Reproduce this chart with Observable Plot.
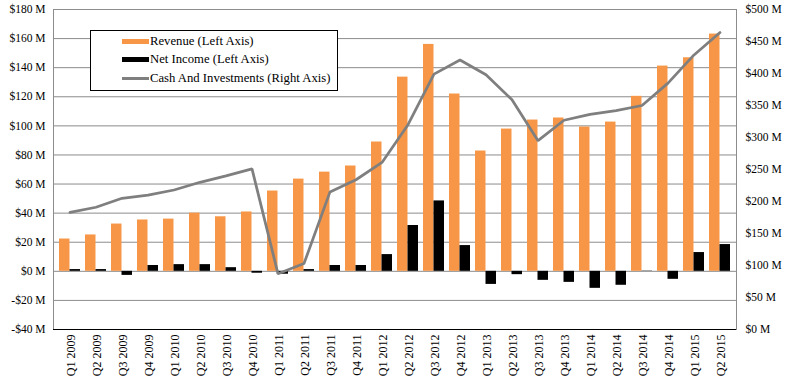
<!DOCTYPE html>
<html>
<head>
<meta charset="utf-8">
<script src="https://cdn.jsdelivr.net/npm/d3@7"></script>
<script src="https://cdn.jsdelivr.net/npm/@observablehq/plot@0.6"></script>
<style>
  html, body { margin: 0; padding: 0; background: #fff; }
  #wrap { position: relative; width: 789px; height: 389px; }
  #legend {
    position: absolute; left: 90px; top: 30px; width: 246px; height: 59px;
    border: 1px solid #000; background: #fff;
    font-family: "Liberation Serif", serif; font-size: 12.7px; color: #000;
  }
  .row { position: absolute; left: 31px; height: 16px; display: flex; align-items: center; white-space: nowrap; }
  .sw { width: 27px; margin-right: 1px; }
</style>
</head>
<body>
<div id="wrap"></div>
<script>
const quarters = [
  "Q1 2009","Q2 2009","Q3 2009","Q4 2009",
  "Q1 2010","Q2 2010","Q3 2010","Q4 2010",
  "Q1 2011","Q2 2011","Q3 2011","Q4 2011",
  "Q1 2012","Q2 2012","Q3 2012","Q4 2012",
  "Q1 2013","Q2 2013","Q3 2013","Q4 2013",
  "Q1 2014","Q2 2014","Q3 2014","Q4 2014",
  "Q1 2015","Q2 2015"
];
// $ millions, left axis
const revenue = [22.2, 25, 32.5, 35.3, 35.9, 40, 37.5, 40.8,
  55.2, 63.4, 68.2, 72.4, 88.9, 133.5, 156, 121.9,
  82.7, 97.8, 104, 105.4, 99.2, 102.6, 120.3, 141.1, 146.8, 163.1];
const netIncome = [1.2, 1.2, -2.8, 4, 4.6, 4.6, 2.5, -1.3,
  -2, 1.2, 4, 4, 11.5, 31.5, 48.4, 17.7,
  -9, -2.3, -6.2, -7.6, -11.7, -9.6, 0.2, -5.5, 12.9, 18.4];
// $ millions, right axis
const cash = [183, 191, 205, 210, 218, 230, 240, 251,
  87, 103, 215, 234, 261, 320, 399, 421,
  398, 359, 295, 327, 336, 342, 350, 385, 429, 464];

const leftTicks = [-40, -20, 0, 20, 40, 60, 80, 100, 120, 140, 160, 180];
const rightTicks = [0, 50, 100, 150, 200, 250, 300, 350, 400, 450, 500];

const seriesNames = ["Revenue (Left Axis)", "Net Income (Left Axis)", "Cash And Investments (Right Axis)"];
const colors = ["#F79646", "#000000", "#7F7F7F"];

const leftDomain = [-40, 180];
const rightDomain = [0, 500];
// map right-axis values onto the left scale
const toLeft = v => leftDomain[0] + (v - rightDomain[0]) * (leftDomain[1] - leftDomain[0]) / (rightDomain[1] - rightDomain[0]);
const toRight = v => rightDomain[0] + (v - leftDomain[0]) * (rightDomain[1] - rightDomain[0]) / (leftDomain[1] - leftDomain[0]);

const W = 789, H = 389;
const mL = 53, mR = 53, mT = 9, mB = 60;
const padInner = 0.2, padOuter = 0.1;
const step = (W - mL - mR) / (quarters.length - padInner + 2 * padOuter);
const bw = step * (1 - padInner);

const rows = quarters.map((q, i) => ({q, rev: revenue[i], ni: netIncome[i], cash: toLeft(cash[i])}));
const fmtLeft = d => d < 0 ? `-$${-d} M` : `$${d} M`;

const chart = Plot.plot({
  width: W, height: H,
  marginLeft: mL, marginRight: mR, marginTop: mT, marginBottom: mB,
  style: {fontFamily: "'Liberation Serif', serif", fontSize: "11px", background: "#fff", color: "#000"},
  x: {type: "band", domain: quarters, paddingInner: padInner, paddingOuter: padOuter, axis: null},
  y: {domain: leftDomain, axis: null},
  marks: [
    Plot.gridY(leftTicks, {stroke: "#8C8C8C", strokeOpacity: 1, strokeWidth: 1}),
    Plot.frame({stroke: "#8C8C8C", strokeWidth: 1}),
    Plot.barY(rows, {x: "q", y: "rev", fill: colors[0], insetRight: bw / 2}),
    Plot.barY(rows, {x: "q", y: "ni", fill: colors[1], insetLeft: bw / 2}),
    Plot.line(rows, {x: "q", y: "cash", stroke: colors[2], strokeWidth: 2.75, strokeLinejoin: "miter"}),
    Plot.ruleY([leftDomain[0]], {stroke: "#000", strokeWidth: 1.2}),
    Plot.axisY(leftTicks, {anchor: "left", tickSize: 0, tickPadding: 8, tickFormat: fmtLeft, label: null, fontSize: 11.5}),
    Plot.axisY(rightTicks.map(toLeft), {anchor: "right", tickSize: 0, tickPadding: 9,
      tickFormat: d => `$${Math.round(toRight(d))} M`, label: null, fontSize: 11.5}),
    Plot.axisX({anchor: "bottom", tickSize: 0, tickPadding: 5, tickRotate: -90, label: null, dx: 1.5, fontSize: 12})
  ]
});

const wrap = document.getElementById("wrap");
wrap.appendChild(chart);

const legend = document.createElement("div");
legend.id = "legend";
const tops = [2, 20, 39];
seriesNames.forEach((name, i) => {
  const row = document.createElement("div");
  row.className = "row";
  row.style.top = tops[i] + "px";
  const sw = document.createElement("div");
  sw.className = "sw";
  sw.style.background = colors[i];
  sw.style.height = i === 2 ? "3px" : "5px";
  const t = document.createElement("span");
  t.textContent = name;
  row.appendChild(sw);
  row.appendChild(t);
  legend.appendChild(row);
});
wrap.appendChild(legend);
</script>
</body>
</html>
